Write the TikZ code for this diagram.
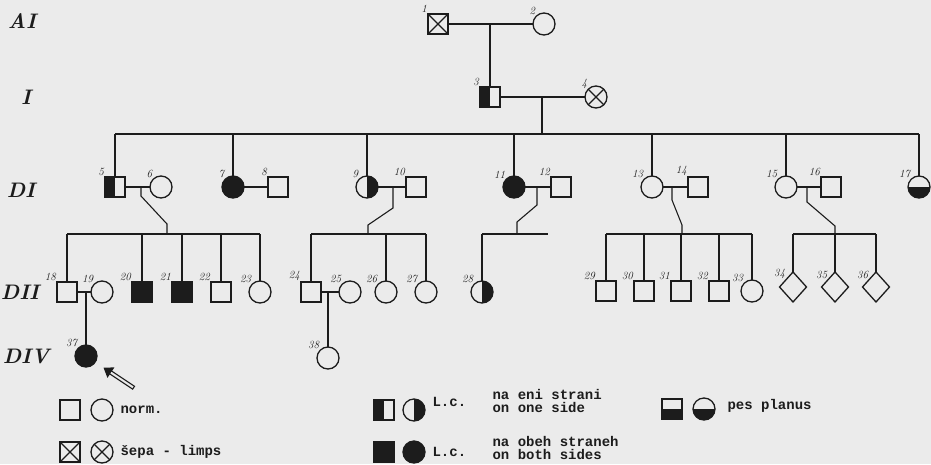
\documentclass[tikz,border=0pt]{standalone}
\usepackage{fontspec}
\setmonofont{Liberation Mono}
\usetikzlibrary{shapes.geometric, arrows.meta}
\definecolor{paper}{HTML}{EBEBEB}
\definecolor{ink}{HTML}{1C1C1C}

\begin{document}
\begin{tikzpicture}[
    x=1pt, y=-1pt,
    line width=1.1pt, color=ink,
    sym/.style={draw=ink, line width=1.3pt, inner sep=0pt, outer sep=0pt},
    male/.style={sym, rectangle, minimum size=20pt},
    female/.style={sym, circle, minimum size=22pt},
    unknown/.style={sym, diamond, minimum width=27pt, minimum height=30pt},
    affected/.style={fill=ink},
    halfleft/.style={path picture={\fill[ink] (path picture bounding box.south west) rectangle (path picture bounding box.north);}},
    halfright/.style={path picture={\fill[ink] (path picture bounding box.south) rectangle (path picture bounding box.north east);}},
    lowerhalf/.style={path picture={\fill[ink] (path picture bounding box.south west) rectangle (path picture bounding box.east);}},
    crossed/.style={path picture={\draw[ink, line width=1.1pt] (path picture bounding box.south west) -- (path picture bounding box.north east) (path picture bounding box.north west) -- (path picture bounding box.south east);}},
    num/.style={font=\fontsize{11}{12}\selectfont\itshape, inner sep=0.5pt},
    gen/.style={font=\fontsize{21}{24}\selectfont\bfseries\itshape},
    legend/.style={font=\fontsize{14}{13}\selectfont\ttfamily\bfseries, anchor=west, inner sep=0pt, align=left},
    pointer/.style={line width=4.5pt, shorten >=10pt, -{Triangle[length=9pt, width=12pt]}}
]

% Paper
\fill[paper] (0,0) rectangle (931,464);
\useasboundingbox (0,0) rectangle (931,464);

% Generation labels
\node[gen] (gAI) at (22,21) {AI};
\node[gen] (gI) at (26,97) {I};
\node[gen] (gII) at (21,190) {DI};
\node[gen] (gIII) at (20,292) {DII};
\node[gen] (gIV) at (26,356) {DIV};

% Generation AI
\node[male, crossed, label={[num]north west:1}] (n1) at (438,24) {};
\node[female, label={[num]north west:2}] (n2) at (544,24) {};
\draw (n1) -- (n2);
\coordinate (m12) at (490,24);

% Generation I
\node[male, halfleft, label={[num]north west:3}] (n3) at (490,97) {};
\node[female, crossed, label={[num]north west:4}] (n4) at (596,97) {};
\draw (n3) -- (n4);
\draw (m12) -- (n3);
\coordinate (m34) at (542,97);
\coordinate (g2) at (542,134);
\draw (m34) -- (g2);

% Generation II
\node[male, halfleft, label={[num]north west:5}] (n5) at (115,187) {};
\node[female, label={[num]north west:6}] (n6) at (161,187) {};
\node[female, affected, label={[num]north west:7}] (n7) at (233,187) {};
\node[male, label={[num]north west:8}] (n8) at (278,187) {};
\node[female, halfright, label={[num]north west:9}] (n9) at (367,187) {};
\node[male, label={[num]north west:10}] (n10) at (416,187) {};
\node[female, affected, label={[num]north west:11}] (n11) at (514,187) {};
\node[male, label={[num]north west:12}] (n12) at (561,187) {};
\node[female, label={[num]north west:13}] (n13) at (652,187) {};
\node[male, label={[num]north west:14}] (n14) at (698,187) {};
\node[female, label={[num]north west:15}] (n15) at (786,187) {};
\node[male, label={[num]north west:16}] (n16) at (831,187) {};
\node[female, lowerhalf, label={[num]north west:17}] (n17) at (919,187) {};

\draw (n5 |- g2) -- (n17 |- g2);
\foreach \n in {5,7,9,11,13,15,17} \draw (n\n) -- (n\n |- g2);
\draw (n5) -- (n6);
\draw (n7) -- (n8);
\draw (n9) -- (n10);
\draw (n11) -- (n12);
\draw (n13) -- (n14);
\draw (n15) -- (n16);

% Generation III
\node[male, label={[num]north west:18}] (n18) at (67,292) {};
\node[female, label={[num]north west:19}] (n19) at (102,292) {};
\node[male, affected, label={[num]north west:20}] (n20) at (142,292) {};
\node[male, affected, label={[num]north west:21}] (n21) at (182,292) {};
\node[male, label={[num]north west:22}] (n22) at (221,292) {};
\node[female, label={[num]north west:23}] (n23) at (260,292) {};
\node[male, label={[num]north west:24}] (n24) at (311,292) {};
\node[female, label={[num]north west:25}] (n25) at (350,292) {};
\node[female, label={[num]north west:26}] (n26) at (386,292) {};
\node[female, label={[num]north west:27}] (n27) at (426,292) {};
\node[female, halfright, label={[num]north west:28}] (n28) at (482,292) {};
\node[male, label={[num]north west:29}] (n29) at (606,291) {};
\node[male, label={[num]north west:30}] (n30) at (644,291) {};
\node[male, label={[num]north west:31}] (n31) at (681,291) {};
\node[male, label={[num]north west:32}] (n32) at (719,291) {};
\node[female, label={[num]north west:33}] (n33) at (752,291) {};
\node[unknown, label={[num]north west:34}] (n34) at (793,287) {};
\node[unknown, label={[num]north west:35}] (n35) at (835,287) {};
\node[unknown, label={[num]north west:36}] (n36) at (876,287) {};

% Children of 5 and 6
\coordinate (m56) at (141,187);
\coordinate (s5) at (167,234);
\draw (m56) -- (141,196) -- (167,224) -- (s5);
\draw (n18 |- s5) -- (n23 |- s5);
\foreach \n in {18,20,21,22,23} \draw (n\n) -- (n\n |- s5);

% Children of 9 and 10
\coordinate (m910) at (393,187);
\coordinate (s9) at (368,234);
\draw (m910) -- (393,208) -- (368,225) -- (s9);
\draw (n24 |- s9) -- (n27 |- s9);
\foreach \n in {24,26,27} \draw (n\n) -- (n\n |- s9);

% Children of 11 and 12
\coordinate (m1112) at (537,187);
\coordinate (s11) at (517,234);
\coordinate (s11end) at (548,234);
\draw (m1112) -- (537,205) -- (517,222) -- (s11);
\draw (n28 |- s11) -- (s11end);
\draw (n28) -- (n28 |- s11);

% Children of 13 and 14
\coordinate (m1314) at (672,187);
\coordinate (s13) at (682,234);
\draw (m1314) -- (672,200) -- (682,225) -- (s13);
\draw (n29 |- s13) -- (n33 |- s13);
\foreach \n in {29,30,31,32,33} \draw (n\n) -- (n\n |- s13);

% Children of 15 and 16
\coordinate (m1516) at (807,187);
\coordinate (s15) at (835,234);
\draw (m1516) -- (807,202) -- (835,226) -- (s15);
\draw (n34 |- s15) -- (n36 |- s15);
\foreach \n in {34,35,36} \draw (n\n) -- (n\n |- s15);

% Generation IV
\draw (n18) -- (n19);
\draw (n24) -- (n25);
\node[female, affected, label={[num]north west:37}] (n37) at (86,356) {};
\node[female, label={[num]north west:38}] (n38) at (328,358) {};
\coordinate (m1819) at (86,292);
\coordinate (m2425) at (328,292);
\draw (m1819) -- (n37);
\draw (m2425) -- (n38);

% Proband arrow
\coordinate (ptail) at (134,388);
\draw[pointer] (ptail) -- (n37);
\draw[paper, line width=2pt, shorten <=1.2pt, shorten >=19pt] (ptail) -- (n37);

% Legend
\node[male] (l1) at (70,410) {};
\node[female] (l2) at (102,410) {};
\node[legend] (t1) at (120,410) {norm.};
\node[male, crossed] (l3) at (70,452) {};
\node[female, crossed] (l4) at (102,452) {};
\node[legend] (t2) at (120,452) {šepa - limps};

\node[male, halfleft] (l5) at (384,410) {};
\node[female, halfright] (l6) at (414,410) {};
\node[legend] (t3) at (432,402) {L.c.};
\node[legend] (t4) at (492,401) {na eni strani\\on one side};
\node[male, affected] (l7) at (384,452) {};
\node[female, affected] (l8) at (414,452) {};
\node[legend] (t5) at (432,452) {L.c.};
\node[legend] (t6) at (492,448) {na obeh straneh\\on both sides};

\node[male, lowerhalf] (l9) at (672,409) {};
\node[female, lowerhalf] (l10) at (704,409) {};
\node[legend] (t7) at (727,406) {pes planus};

\end{tikzpicture}
\end{document}
